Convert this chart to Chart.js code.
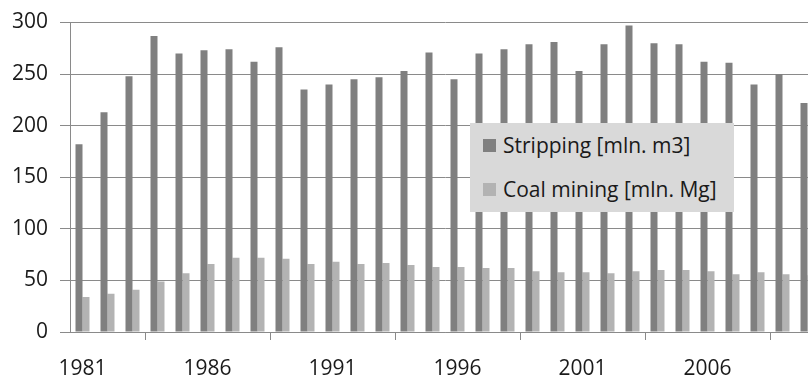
<!DOCTYPE html>
<html>
<head>
<meta charset="utf-8">
<script src="https://cdn.jsdelivr.net/npm/chart.js@4"></script>
<style>
  html, body { margin: 0; padding: 0; background: #fff; overflow: hidden; }
  .wrap { position: relative; width: 830px; height: 377px; }
  .legend {
    position: absolute; left: 470px; top: 123px; width: 264px; height: 89px;
    background: #d9d9d9; font-family: "Open Sans", sans-serif; font-size: 21px; color: #1a1a1a;
    box-sizing: border-box; padding: 0 0 0 13px;
  }
  .legend__item { display: flex; align-items: center; height: 44px; }
  .legend__box { width: 13px; height: 13px; margin-right: 7px; }
</style>
</head>
<body>
<div class="wrap">
  <canvas id="myChart" width="830" height="377"></canvas>
  <div class="legend" id="legend"></div>
</div>
<script>
const years = [];
for (let y = 1981; y <= 2010; y++) years.push(String(y));

const stripping = [182, 213, 248, 287, 270, 273, 274, 262, 276, 235,
  240, 245, 247, 253, 271, 245, 270, 274, 279, 281,
  253, 279, 297, 280, 279, 262, 261, 240, 250, 222];
const coalMining = [34, 37, 41, 49, 57, 66, 72, 72, 71, 66,
  68, 66, 67, 65, 63, 63, 62, 62, 59, 58,
  58, 57, 59, 60, 60, 59, 56, 58, 56, 55];
const yTicks = [0, 50, 100, 150, 200, 250, 300];

const labelNames = ['Stripping [mln. m3]', 'Coal mining [mln. Mg]'];
const colors = ['#808080', '#b3b3b3'];
const lineColor = '#8a8a8a';
const font = {family: '"Open Sans", sans-serif', size: 21, lineHeight: 1};

const ctx = document.getElementById('myChart');

const chart = new Chart(ctx, {
  type: 'bar',
  data: {
    labels: years,
    datasets: [
      {label: labelNames[0], data: stripping, backgroundColor: colors[0]},
      {label: labelNames[1], data: coalMining, backgroundColor: colors[1]}
    ]
  },
  options: {
    responsive: false,
    animation: false,
    datasets: {bar: {categoryPercentage: 0.56, barPercentage: 1}},
    layout: {padding: {top: 18, right: 10, left: 0, bottom: 0}},
    plugins: {legend: {display: false}, tooltip: {enabled: false}},
    scales: {
      x: {
        offset: true,
        grid: {offset: true, drawOnChartArea: false, drawTicks: true, tickLength: 8, color: lineColor},
        border: {color: lineColor},
        ticks: {
          autoSkip: false, maxRotation: 0, color: '#1a1a1a', font: font, padding: 19,
          callback: (v, i) => (i % 5 === 0 ? years[i] : null)
        },
        afterFit: (s) => { s.height = 45; }
      },
      y: {
        min: 0, max: 300,
        afterBuildTicks: (s) => { s.ticks = yTicks.map((v) => ({value: v})); },
        grid: {color: lineColor, tickLength: 10},
        border: {color: lineColor},
        ticks: {color: '#1a1a1a', font: font, padding: 12},
        afterFit: (s) => { s.width = 70; }
      }
    }
  }
});

const legend = document.getElementById('legend');
chart.data.datasets.forEach((d) => {
  legend.insertAdjacentHTML('beforeend',
    `<div class="legend__item"><span class="legend__box" style="background:${d.backgroundColor}"></span><span>${d.label}</span></div>`);
});
</script>
</body>
</html>
